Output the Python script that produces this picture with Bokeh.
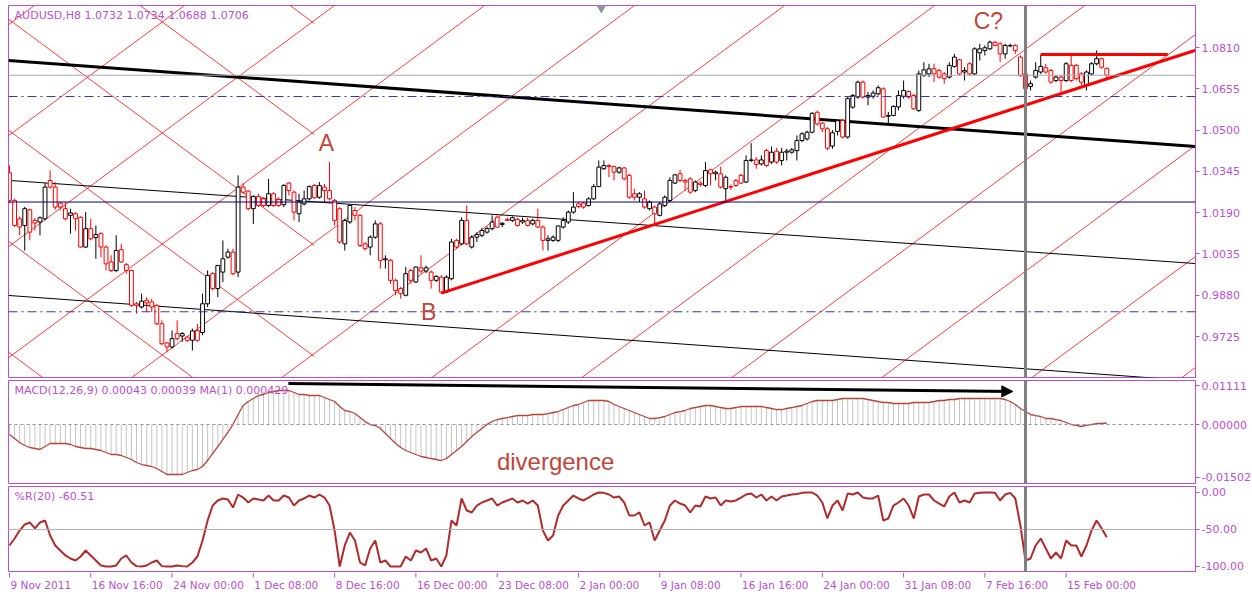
from bokeh.plotting import figure
from bokeh.layouts import column
from bokeh.models import (Range1d, FixedTicker, NumeralTickFormatter, Span, Label,
                          Arrow, NormalHead, ColumnDataSource)
from bokeh.embed import file_html
from bokeh.resources import INLINE
from bokeh.core.properties import value

# ---------------- data (AUDUSD H8) ----------------
open_ = [1.0340,1.0236,1.0167,1.0142,1.0201,1.0161,1.0155,1.0167,1.0311,1.0286,
 1.0226,1.0205,1.0180,1.0186,1.0173,1.0061,1.0130,1.0097,1.0111,1.0061,
 1.0005,0.9973,1.0051,0.9995,0.9973,0.9848,0.9836,0.9861,0.9855,0.9842,
 0.9773,0.9701,0.9686,0.9736,0.9727,0.9723,0.9711,0.9748,0.9740,0.9848,
 0.9961,0.9905,0.9967,1.0023,1.0042,0.9967,1.0286,1.0271,1.0205,1.0251,
 1.0242,1.0217,1.0261,1.0239,1.0220,1.0301,1.0267,1.0186,1.0223,1.0242,
 1.0292,1.0248,1.0286,1.0273,1.0236,1.0205,1.0073,1.0155,1.0198,1.0180,
 1.0073,1.0061,1.0098,1.0148,1.0013,1.0011,0.9936,0.9905,0.9880,0.9973,
 0.9930,0.9983,0.9971,0.9967,0.9936,0.9948,0.9892,0.9942,1.0086,1.0073,
 1.0161,1.0061,1.0098,1.0105,1.0117,1.0130,1.0173,1.0146,1.0165,1.0161,
 1.0165,1.0155,1.0161,1.0148,1.0161,1.0136,1.0086,1.0086,1.0086,1.0136,
 1.0155,1.0192,1.0223,1.0226,1.0217,1.0242,1.0288,1.0355,1.0367,1.0363,
 1.0342,1.0358,1.0330,1.0261,1.0248,1.0242,1.0205,1.0211,1.0180,1.0217,
 1.0236,1.0301,1.0336,1.0311,1.0317,1.0273,1.0301,1.0292,1.0351,1.0336,
 1.0336,1.0280,1.0288,1.0311,1.0330,1.0305,1.0386,1.0388,1.0373,1.0423,
 1.0380,1.0421,1.0386,1.0417,1.0417,1.0423,1.0461,1.0467,1.0492,1.0567,
 1.0526,1.0505,1.0440,1.0495,1.0536,1.0474,1.0586,1.0624,1.0680,1.0624,
 1.0627,1.0636,1.0655,1.0552,1.0555,1.0587,1.0627,1.0645,1.0630,1.0574,
 1.0705,1.0711,1.0730,1.0724,1.0711,1.0699,1.0739,1.0764,1.0718,1.0749,
 1.0711,1.0790,1.0799,1.0805,1.0830,1.0824,1.0786,1.0816,1.0818,1.0774,
 1.0711,1.0664,1.0699,1.0718,1.0734,1.0724,1.0686,1.0699,1.0686,1.0743,
 1.0743,1.0711,1.0668,1.0711,1.0749,1.0768,1.0732]

high = [1.0367,1.0242,1.0176,1.0212,1.0205,1.0171,1.0176,1.0301,1.0349,1.0305,
 1.0230,1.0230,1.0205,1.0192,1.0176,1.0192,1.0167,1.0142,1.0117,1.0067,
 1.0030,1.0105,1.0073,1.0001,0.9976,0.9855,0.9886,0.9873,0.9867,0.9846,
 0.9786,0.9705,0.9748,0.9786,0.9742,0.9726,0.9755,0.9773,0.9886,0.9973,
 0.9967,0.9992,1.0086,1.0055,1.0055,1.0330,1.0301,1.0274,1.0255,1.0261,
 1.0248,1.0317,1.0267,1.0248,1.0298,1.0305,1.0273,1.0261,1.0273,1.0292,
 1.0298,1.0305,1.0298,1.0380,1.0242,1.0211,1.0167,1.0220,1.0211,1.0186,
 1.0080,1.0105,1.0161,1.0155,1.0030,1.0017,0.9942,0.9911,0.9986,0.9980,
 0.9988,1.0030,0.9992,0.9973,0.9955,0.9955,0.9955,1.0092,1.0092,1.0173,
 1.0217,1.0105,1.0117,1.0133,1.0138,1.0180,1.0180,1.0155,1.0171,1.0176,
 1.0171,1.0171,1.0171,1.0167,1.0205,1.0142,1.0105,1.0105,1.0142,1.0173,
 1.0198,1.0267,1.0230,1.0230,1.0248,1.0298,1.0386,1.0386,1.0371,1.0367,
 1.0363,1.0361,1.0336,1.0280,1.0267,1.0273,1.0236,1.0217,1.0230,1.0255,
 1.0323,1.0336,1.0351,1.0317,1.0323,1.0311,1.0308,1.0380,1.0355,1.0348,
 1.0363,1.0330,1.0296,1.0317,1.0336,1.0405,1.0451,1.0398,1.0405,1.0430,
 1.0438,1.0433,1.0433,1.0430,1.0433,1.0480,1.0492,1.0498,1.0567,1.0573,
 1.0530,1.0511,1.0500,1.0540,1.0543,1.0624,1.0636,1.0686,1.0686,1.0643,
 1.0649,1.0668,1.0661,1.0568,1.0593,1.0649,1.0686,1.0649,1.0636,1.0724,
 1.0755,1.0749,1.0749,1.0730,1.0718,1.0755,1.0786,1.0768,1.0736,1.0755,
 1.0811,1.0824,1.0818,1.0836,1.0834,1.0830,1.0824,1.0824,1.0822,1.0780,
 1.0718,1.0686,1.0755,1.0784,1.0749,1.0730,1.0705,1.0705,1.0755,1.0780,
 1.0749,1.0718,1.0724,1.0755,1.0799,1.0772,1.0734]

low = [1.0226,1.0136,1.0105,1.0048,1.0086,1.0123,1.0105,1.0161,1.0280,1.0201,
 1.0199,1.0161,1.0111,1.0123,1.0058,1.0058,1.0086,1.0017,1.0023,0.9973,
 0.9967,0.9967,1.0001,0.9961,0.9836,0.9811,0.9830,0.9817,0.9817,0.9767,
 0.9692,0.9667,0.9680,0.9711,0.9705,0.9705,0.9673,0.9705,0.9730,0.9836,
 0.9898,0.9873,0.9930,1.0017,0.9955,0.9948,1.0261,1.0199,1.0148,1.0211,
 1.0211,1.0211,1.0211,1.0211,1.0211,1.0255,1.0161,1.0155,1.0217,1.0236,
 1.0242,1.0242,1.0230,1.0236,1.0142,1.0073,1.0048,1.0148,1.0161,1.0061,
 1.0048,1.0030,1.0092,0.9980,0.9980,0.9923,0.9880,0.9867,0.9876,0.9923,
 0.9926,0.9961,0.9963,0.9905,0.9930,0.9886,0.9888,0.9936,1.0055,1.0067,
 1.0067,1.0055,1.0080,1.0098,1.0111,1.0123,1.0133,1.0136,1.0158,1.0155,
 1.0138,1.0148,1.0138,1.0142,1.0133,1.0048,1.0048,1.0080,1.0080,1.0130,
 1.0148,1.0186,1.0208,1.0205,1.0213,1.0238,1.0286,1.0351,1.0323,1.0311,
 1.0336,1.0311,1.0242,1.0236,1.0230,1.0205,1.0198,1.0148,1.0176,1.0211,
 1.0230,1.0298,1.0305,1.0273,1.0261,1.0267,1.0288,1.0286,1.0292,1.0311,
 1.0280,1.0230,1.0276,1.0286,1.0298,1.0301,1.0380,1.0355,1.0367,1.0361,
 1.0373,1.0373,1.0367,1.0386,1.0411,1.0386,1.0455,1.0461,1.0488,1.0517,
 1.0492,1.0424,1.0430,1.0480,1.0468,1.0468,1.0580,1.0618,1.0618,1.0593,
 1.0618,1.0630,1.0546,1.0524,1.0552,1.0574,1.0618,1.0618,1.0576,1.0568,
 1.0699,1.0699,1.0680,1.0693,1.0674,1.0693,1.0734,1.0705,1.0686,1.0705,
 1.0705,1.0761,1.0780,1.0801,1.0814,1.0755,1.0768,1.0811,1.0786,1.0699,
 1.0643,1.0649,1.0693,1.0711,1.0711,1.0674,1.0680,1.0643,1.0680,1.0680,
 1.0686,1.0668,1.0649,1.0705,1.0743,1.0730,1.0688]

close_ = [1.0236,1.0142,1.0136,1.0205,1.0117,1.0151,1.0171,1.0286,1.0286,1.0211,
 1.0211,1.0167,1.0189,1.0167,1.0061,1.0130,1.0092,1.0108,1.0061,0.9998,
 0.9973,1.0048,1.0005,0.9973,0.9842,0.9842,0.9858,0.9851,0.9836,0.9773,
 0.9698,0.9686,0.9717,0.9717,0.9736,0.9711,0.9746,0.9711,0.9848,0.9955,
 0.9905,0.9992,1.0017,1.0042,0.9961,1.0286,1.0267,1.0205,1.0251,1.0217,
 1.0217,1.0261,1.0217,1.0217,1.0292,1.0273,1.0192,1.0230,1.0242,1.0288,
 1.0246,1.0292,1.0273,1.0242,1.0161,1.0080,1.0161,1.0217,1.0180,1.0067,
 1.0055,1.0098,1.0148,1.0011,1.0017,0.9936,0.9898,0.9886,0.9961,0.9936,
 0.9986,0.9971,0.9983,0.9936,0.9951,0.9892,0.9948,1.0080,1.0061,1.0161,
 1.0073,1.0098,1.0108,1.0123,1.0130,1.0155,1.0136,1.0150,1.0161,1.0171,
 1.0142,1.0161,1.0142,1.0161,1.0136,1.0086,1.0092,1.0098,1.0140,1.0161,
 1.0192,1.0211,1.0213,1.0211,1.0242,1.0288,1.0361,1.0367,1.0363,1.0342,
 1.0358,1.0317,1.0248,1.0248,1.0261,1.0211,1.0230,1.0186,1.0223,1.0248,
 1.0311,1.0332,1.0311,1.0305,1.0267,1.0305,1.0296,1.0348,1.0336,1.0342,
 1.0286,1.0323,1.0286,1.0292,1.0301,1.0386,1.0388,1.0371,1.0388,1.0367,
 1.0417,1.0380,1.0417,1.0421,1.0426,1.0461,1.0486,1.0492,1.0563,1.0523,
 1.0505,1.0432,1.0490,1.0535,1.0474,1.0618,1.0630,1.0680,1.0624,1.0630,
 1.0639,1.0659,1.0549,1.0555,1.0589,1.0630,1.0649,1.0624,1.0580,1.0711,
 1.0726,1.0730,1.0711,1.0699,1.0693,1.0743,1.0774,1.0711,1.0724,1.0711,
 1.0805,1.0805,1.0809,1.0830,1.0818,1.0786,1.0818,1.0818,1.0799,1.0705,
 1.0655,1.0674,1.0724,1.0739,1.0718,1.0680,1.0699,1.0686,1.0749,1.0686,
 1.0693,1.0680,1.0718,1.0749,1.0768,1.0736,1.0706]

macd = [-0.00285,-0.00399,-0.00513,-0.00598,-0.00655,-0.00684,-0.00712,-0.00627,-0.00541,-0.00541,
 -0.00541,-0.00541,-0.00570,-0.00627,-0.00655,-0.00684,-0.00684,-0.00712,-0.00741,-0.00798,
 -0.00855,-0.00855,-0.00883,-0.00940,-0.00997,-0.01083,-0.01140,-0.01168,-0.01197,-0.01254,
 -0.01339,-0.01425,-0.01425,-0.01425,-0.01425,-0.01368,-0.01311,-0.01282,-0.01197,-0.01026,
 -0.00826,-0.00627,-0.00427,-0.00228,0.00005,0.00285,0.00541,0.00655,0.00741,0.00826,
 0.00855,0.00912,0.00940,0.00969,0.00969,0.00969,0.00912,0.00855,0.00855,0.00826,
 0.00826,0.00826,0.00769,0.00712,0.00655,0.00513,0.00399,0.00370,0.00313,0.00199,
 0.00085,-0.00005,-0.00028,-0.00114,-0.00256,-0.00399,-0.00541,-0.00655,-0.00741,-0.00798,
 -0.00855,-0.00912,-0.00940,-0.00969,-0.00997,-0.01026,-0.00969,-0.00855,-0.00741,-0.00627,
 -0.00484,-0.00342,-0.00228,-0.00114,0.00003,0.00085,0.00142,0.00171,0.00199,0.00228,
 0.00256,0.00256,0.00256,0.00285,0.00285,0.00285,0.00313,0.00342,0.00370,0.00427,
 0.00484,0.00541,0.00570,0.00627,0.00684,0.00684,0.00684,0.00684,0.00655,0.00570,
 0.00513,0.00456,0.00399,0.00342,0.00285,0.00228,0.00171,0.00171,0.00199,0.00228,
 0.00285,0.00342,0.00370,0.00399,0.00456,0.00484,0.00513,0.00541,0.00541,0.00513,
 0.00484,0.00456,0.00456,0.00484,0.00513,0.00513,0.00513,0.00513,0.00513,0.00484,
 0.00456,0.00427,0.00427,0.00456,0.00484,0.00513,0.00541,0.00598,0.00655,0.00684,
 0.00684,0.00684,0.00684,0.00712,0.00741,0.00741,0.00741,0.00741,0.00741,0.00712,
 0.00684,0.00655,0.00627,0.00627,0.00598,0.00598,0.00598,0.00598,0.00627,0.00627,
 0.00627,0.00627,0.00655,0.00684,0.00684,0.00712,0.00712,0.00741,0.00741,0.00741,
 0.00741,0.00741,0.00741,0.00741,0.00741,0.00741,0.00712,0.00655,0.00570,0.00456,
 0.00370,0.00285,0.00256,0.00228,0.00171,0.00171,0.00142,0.00114,0.00057,0.00000,
 -0.00028,-0.00057,-0.00028,0.00000,0.00028,0.00028,0.00043]

wpr = [-71.6,-62.2,-51.4,-43.2,-40.5,-48.6,-40.5,-37.8,-58.1,-71.6,
 -78.4,-85.1,-89.2,-91.9,-86.5,-78.4,-85.1,-91.9,-98.6,-100.0,
 -100.0,-98.6,-89.2,-85.1,-94.6,-99.5,-100.0,-98.6,-94.6,-91.9,
 -99.5,-100.0,-100.0,-98.6,-99.5,-100.0,-94.6,-86.5,-64.9,-37.8,
 -17.6,-10.8,-8.1,-9.5,-20.3,-2.7,-6.8,-13.5,-8.1,-9.5,
 -10.8,-4.1,-10.8,-10.8,-4.1,-6.8,-17.6,-10.8,-8.1,-4.1,
 -6.8,-2.7,-6.8,-17.6,-51.4,-100.0,-71.6,-54.1,-64.9,-94.6,
 -98.6,-75.7,-64.9,-94.6,-91.9,-100.0,-100.0,-100.0,-86.5,-91.9,
 -78.4,-81.1,-75.7,-91.9,-89.2,-100.0,-85.1,-37.8,-44.6,-8.1,
 -24.3,-27.0,-17.6,-13.5,-10.8,-8.1,-17.6,-13.5,-10.8,-8.1,
 -13.5,-10.8,-14.9,-10.8,-17.6,-51.4,-64.9,-58.1,-31.1,-17.6,
 -10.8,-4.1,-8.1,-10.8,-6.8,-2.7,0.0,-0.5,-2.7,-6.8,
 -5.4,-13.5,-31.1,-31.1,-27.0,-44.6,-40.5,-64.9,-51.4,-37.8,
 -17.6,-10.8,-14.9,-17.6,-27.0,-17.6,-18.9,-5.4,-8.1,-6.8,
 -17.6,-10.8,-12.2,-10.8,-6.8,-2.7,-1.4,-6.8,-2.7,-10.8,
 -5.4,-10.8,-5.4,-4.1,-2.7,-2.0,-0.5,0.0,0.0,-4.1,
 -13.5,-35.1,-17.6,-10.8,-24.3,-1.4,-2.7,0.0,-6.8,-8.1,
 -8.1,-4.1,-37.8,-35.1,-17.6,-13.5,-8.1,-17.6,-35.1,-5.4,
 -2.7,-2.7,-10.8,-14.9,-18.9,-5.4,0.0,-13.5,-10.8,-13.5,
 -1.4,-0.5,0.0,0.0,-0.5,-10.8,-2.7,-0.5,-8.1,-44.6,
 -91.9,-89.2,-71.6,-62.2,-75.7,-89.2,-81.1,-89.2,-64.9,-71.6,
 -71.6,-86.5,-71.6,-51.4,-37.8,-48.6,-60.51]

tick_bars = [0, 16, 32, 48, 64, 80, 96, 112, 128, 144, 160, 176, 192, 208]
tick_labels = ["9 Nov 2011", "16 Nov 16:00", "24 Nov 00:00", "1 Dec 08:00", "8 Dec 16:00",
               "16 Dec 00:00", "23 Dec 08:00", "2 Jan 00:00", "9 Jan 08:00", "16 Jan 16:00",
               "24 Jan 00:00", "31 Jan 08:00", "7 Feb 16:00", "15 Feb 00:00"]
price_ticks = [1.0810, 1.0655, 1.0500, 1.0345, 1.0190, 1.0035, 0.9880, 0.9725]
macd_ticks = [0.01111, 0.0, -0.01502]
wpr_ticks = [0.0, -50.0, -100.0]

# chart objects (drawn by the analyst)
bid_price = 1.0706
navy_solid = [1.0230]
navy_dashdot = [1.0626, 0.9818]
grid_slope = 0.001411            # price per bar of the red grid lines
grid_step = 0.04167
rising_base = 1.0065             # price at bar 0 of rising line j=0
falling_base = 1.0497            # price at bar 0 of falling line j=0
falling_end_bar = 60
channel = [(1.0761, 1.0438, 3), (1.0311, 0.9999, 1), (0.9879, 0.9558, 1)]  # (price@0, price@233.5, width)
trend_start = (85, 0.9888)
trend_slope = 0.000614
top_line = (203, 228, 1.0784)
marker_bar = 200

PURPLE = "#b94fcf"
FONT = "DejaVu Sans"
BIG_FONT = "Liberation Sans"
LABEL_RED = "#c2453a"

n = len(close_)
bars = list(range(n))
PXB = 5.08                         # pixels per bar
FW = 1187
X0 = -1.0 / PXB
X1 = X0 + FW / PXB
MAIN_R = (0.95713, 1.09677)
MACD_R = (-0.016809, 0.012536)
H1, H2, H3, H4 = 372, 103, 86, 19
WPR_R = (8.1 - H3 / 0.74, 8.1)


def style_axis(a):
    a.axis_line_color = PURPLE
    a.major_tick_line_color = PURPLE
    a.minor_tick_line_color = None
    a.major_tick_out = 4
    a.major_tick_in = 0
    a.major_label_standoff = 2
    a.major_label_text_color = PURPLE
    a.major_label_text_font = FONT
    a.major_label_text_font_size = "11px"


def panel(h, yr, ticks, fmt, top, bottom):
    p = figure(frame_width=FW, frame_height=h,
               x_range=Range1d(X0, X1), y_range=Range1d(*yr),
               output_backend="svg", toolbar_location=None,
               x_axis_location=None, y_axis_location="right",
               min_border_left=8, min_border_right=57,
               min_border_top=top, min_border_bottom=bottom,
               outline_line_color=PURPLE, outline_line_width=1,
               background_fill_color="white", border_fill_color="white")
    p.xgrid.visible = False
    p.ygrid.visible = False
    ya = p.yaxis[0]
    ya.ticker = FixedTicker(ticks=ticks)
    ya.formatter = NumeralTickFormatter(format=fmt)
    style_axis(ya)
    return p


def yat(yr, h, px):
    return yr[1] - px * (yr[1] - yr[0]) / h


# ---------------- main panel ----------------
p1 = panel(H1, MAIN_R, price_ticks, "0.0000", 5, 1)

xa, xb = X0 - 5, X1 + 5
rx0, ry0, rx1, ry1 = [], [], [], []
for j in range(-10, 3):
    c = rising_base + j * grid_step
    rx0.append(xa); ry0.append(c + grid_slope * xa)
    rx1.append(xb); ry1.append(c + grid_slope * xb)
for j in range(-3, 4):
    d = falling_base + j * grid_step
    rx0.append(X0); ry0.append(d - grid_slope * X0)
    rx1.append(falling_end_bar); ry1.append(d - grid_slope * falling_end_bar)
p1.segment(rx0, ry0, rx1, ry1, line_color="#ff1a1a", line_width=1, line_alpha=0.85)

for (s, e, w) in channel:
    p1.line([X0, 233.5], [s + (e - s) * (X0 / 233.5), e], line_color="black", line_width=w)

p1.add_layout(Span(location=bid_price, dimension="width", line_color="#a3abb4", line_width=1))
for v in navy_solid:
    p1.add_layout(Span(location=v, dimension="width", line_color="#000080", line_width=1))
for v in navy_dashdot:
    p1.add_layout(Span(location=v, dimension="width", line_color="#3535a8", line_width=1,
                       line_dash="9 4 2 4"))

colors = ["#000000" if c >= o else "#ff0000" for o, c in zip(open_, close_)]
src = ColumnDataSource(dict(x=bars, h=high, l=low,
                            top=[max(o, c) for o, c in zip(open_, close_)],
                            bot=[min(o, c) for o, c in zip(open_, close_)],
                            col=colors))
p1.segment(x0="x", y0="h", x1="x", y1="l", source=src, line_color="col", line_width=1)
p1.vbar(x="x", width=0.75, top="top", bottom="bot", source=src,
        fill_color="white", line_color="col", line_width=1)

tb, tp = trend_start
p1.line([tb, 233.5], [tp, tp + trend_slope * (233.5 - tb)], line_color="#ff0000", line_width=3)
p1.line([top_line[0], top_line[1]], [top_line[2], top_line[2]], line_color="#ff0000", line_width=3)

p1.add_layout(Span(location=marker_bar, dimension="height", line_color="#808080", line_width=3))

p1.scatter([116.5], [yat(MAIN_R, H1, 2)], marker="inverted_triangle", size=9,
           color="#8a96a8")

p1.add_layout(Label(x=1.0, y=yat(MAIN_R, H1, 10), text="AUDUSD,H8  1.0732 1.0734 1.0688 1.0706",
                    text_font=FONT, text_font_size="11px", text_color=PURPLE,
                    text_baseline="middle"))
for t, xb_, yp in [("A", 62.4, 1.0450), ("B", 82.5, 0.9819), ("C?", 192.7, 1.0911)]:
    p1.add_layout(Label(x=xb_, y=yp, text=t, text_font=BIG_FONT, text_font_size="23px",
                        text_color=LABEL_RED, text_align="center", text_baseline="middle"))

box_x = X1 + 2 / PXB
for v, col in [(bid_price, "#7d8893"), (1.0626, "#000080"), (1.0230, "#000080"), (0.9818, "#000080")]:
    p1.add_layout(Label(x=box_x, y=v, text=f"{v:.4f}", text_font=FONT, text_font_size="11px",
                        text_color="white", text_baseline="middle", text_align="left",
                        background_fill_color=col, padding=2))

# ---------------- MACD panel ----------------
p2 = panel(H2, MACD_R, macd_ticks, "0.00000", 2, 1)
p2.segment(x0=bars, y0=[0] * n, x1=bars, y1=macd, line_color="#c4c4c4", line_width=1)
p2.add_layout(Span(location=0, dimension="width", line_color="#8797a8", line_width=1, line_dash="3 3"))
p2.line(bars, macd, line_color="#b9443a", line_width=1.3)
p2.add_layout(Span(location=marker_bar, dimension="height", line_color="#808080", line_width=3))
p2.add_layout(Label(x=1.0, y=yat(MACD_R, H2, 10), text="MACD(12,26,9) 0.00043 0.00039 MA(1) 0.000429",
                    text_font=FONT, text_font_size="11px", text_color=PURPLE, text_baseline="middle"))
p2.add_layout(Arrow(end=NormalHead(size=11, fill_color="black", line_color="black"),
                    x_start=54.9, y_start=0.01168, x_end=197.5, y_end=0.0094,
                    line_color="black", line_width=3))
p2.add_layout(Label(x=107.5, y=-0.01054, text="divergence", text_font=BIG_FONT,
                    text_font_size="24px", text_color=LABEL_RED, text_align="center",
                    text_baseline="middle"))

# ---------------- %R panel ----------------
p3 = panel(H3, WPR_R, wpr_ticks, "0.00", 2, 0)
p3.add_layout(Span(location=-50, dimension="width", line_color="#b4b4b4", line_width=1))
p3.line(bars, wpr, line_color="#b22a2a", line_width=2)
p3.add_layout(Span(location=marker_bar, dimension="height", line_color="#808080", line_width=3))
p3.add_layout(Label(x=1.0, y=yat(WPR_R, H3, 10), text="%R(20) -60.51",
                    text_font=FONT, text_font_size="11px", text_color=PURPLE, text_baseline="middle"))

# ---------------- time scale strip ----------------
p4 = figure(frame_width=FW, frame_height=H4, x_range=Range1d(X0, X1), y_range=Range1d(0, H4),
            output_backend="svg", toolbar_location=None,
            x_axis_location=None, y_axis_location=None,
            min_border_left=8, min_border_right=57, min_border_top=0, min_border_bottom=0,
            outline_line_color=None, background_fill_color="white", border_fill_color="white")
p4.xgrid.visible = False
p4.ygrid.visible = False
p4.segment(x0=tick_bars, y0=[H4] * len(tick_bars), x1=tick_bars, y1=[H4 - 5] * len(tick_bars),
           line_color=PURPLE, line_width=1)
p4.text(x=[b + 0.2 for b in tick_bars], y=[H4 - 12] * len(tick_bars), text=tick_labels,
        text_font=value(FONT), text_font_size="10.5px", text_color=PURPLE,
        text_align="left", text_baseline="middle")

layout = column(p1, p2, p3, p4, spacing=0)
open("out.html", "w").write(file_html(layout, INLINE))
